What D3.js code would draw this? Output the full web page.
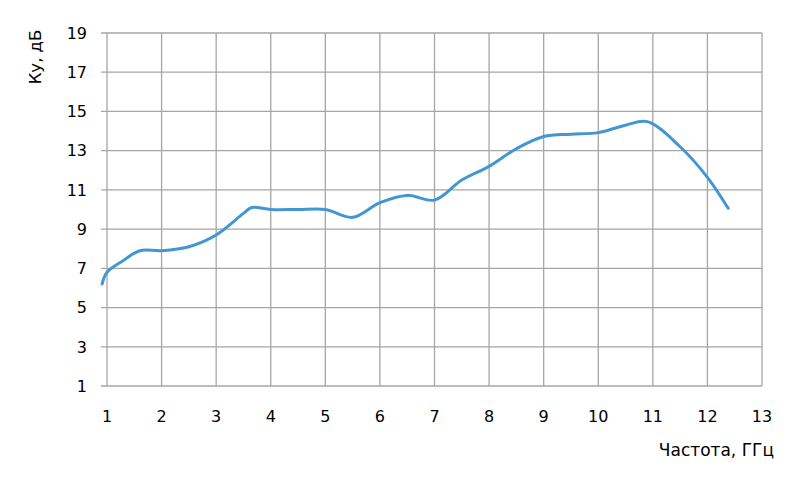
<!DOCTYPE html>
<html><head><meta charset="utf-8">
<script src="https://cdn.jsdelivr.net/npm/d3@7"></script>
<style>body{margin:0;background:#fff}svg{display:block}text{font-family:"DejaVu Sans","Open Sans",sans-serif;fill:#000}</style>
</head><body>
<svg id="c" width="800" height="485"></svg>
<script>
const freq = [0.91, 1.0, 1.3, 1.6, 2.0, 2.5, 3.0, 3.5, 3.65, 4.0, 4.5, 5.0, 5.5, 6.0, 6.5, 7.0, 7.5, 8.0, 8.5, 9.0, 9.5, 10.0, 10.5, 10.9, 11.5, 12.0, 12.38];
const gain = [6.2, 6.8, 7.4, 7.9, 7.9, 8.1, 8.7, 9.8, 10.1, 10.0, 10.0, 10.0, 9.6, 10.35, 10.72, 10.48, 11.5, 12.2, 13.1, 13.72, 13.84, 13.92, 14.3, 14.48, 13.2, 11.64, 10.06];
const xTicks = [1,2,3,4,5,6,7,8,9,10,11,12,13];
const yTicks = [1,3,5,7,9,11,13,15,17,19];

const svg = d3.select("#c");
const L = 107, R = 762, T = 33, B = 386;
const x = d3.scaleLinear().domain([1,13]).range([L,R]);
const y = d3.scaleLinear().domain([1,19]).range([B,T]);
const gridColor = "#a6a6a6";

svg.append("g").selectAll("line").data(yTicks).join("line")
  .attr("x1", L-6).attr("x2", R).attr("y1", d=>y(d)).attr("y2", d=>y(d))
  .attr("stroke", gridColor).attr("stroke-width", 1.3);
svg.append("g").selectAll("line").data(xTicks).join("line")
  .attr("x1", d=>x(d)).attr("x2", d=>x(d)).attr("y1", T).attr("y2", B)
  .attr("stroke", gridColor).attr("stroke-width", 1.3);

svg.append("g").selectAll("text").data(yTicks).join("text")
  .attr("x", 87).attr("y", d=>y(d)+5.8).attr("text-anchor","end")
  .attr("font-size", 16).text(d=>d);
svg.append("g").selectAll("text").data(xTicks).join("text")
  .attr("x", d=>x(d)).attr("y", 422).attr("text-anchor","middle")
  .attr("font-size", 16).text(d=>d);

svg.append("text").attr("x", 774).attr("y", 456).attr("text-anchor","end")
  .attr("font-size", 17).text("Частота, ГГц");
svg.append("text").attr("transform","translate(41,57) rotate(-90)")
  .attr("text-anchor","middle").attr("font-size",16.5).text("Ку, дБ");

const line = d3.line().x((d,i)=>x(freq[i])).y(d=>y(d)).curve(d3.curveCatmullRom.alpha(0.5));
svg.append("path").datum(gain).attr("d", line).attr("fill","none")
  .attr("stroke","#4496d2").attr("stroke-width",3).attr("stroke-linecap","round");
</script>
</body></html>
